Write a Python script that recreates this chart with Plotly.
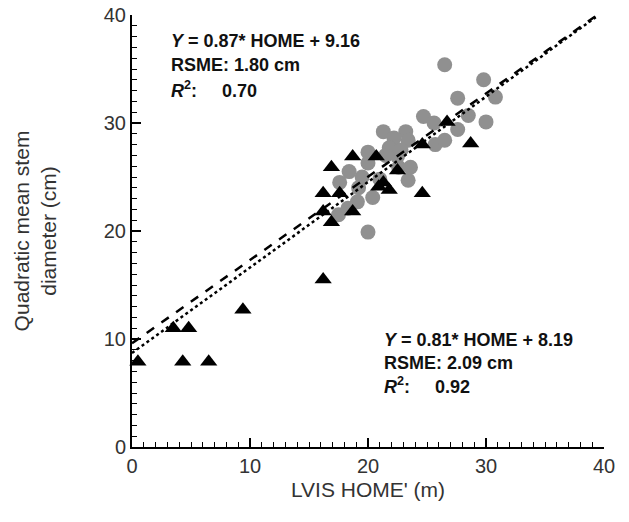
import plotly.graph_objects as go

# Gray circles (one dataset)
circle_x = [26.5, 29.8, 27.6, 30.8, 30.0, 28.5, 24.7, 25.6, 27.6, 21.3, 23.2, 22.2, 25.7, 20.0,
            21.8, 23.4, 17.6, 18.4, 20.0, 21.5, 22.6, 23.4, 19.2, 20.4, 19.1, 17.5, 20.0, 18.3,
            23.6, 22.5, 22.8, 19.5, 21.0, 26.5]
circle_y = [35.4, 34.0, 32.3, 32.4, 30.1, 30.7, 30.6, 30.0, 29.4, 29.2, 29.2, 28.6, 28.0, 27.3,
            27.7, 28.4, 24.5, 25.5, 26.3, 27.0, 25.9, 24.7, 24.0, 23.1, 22.7, 21.5, 19.9, 22.1,
            25.9, 26.9, 27.5, 25.0, 24.8, 28.4]

# Black triangles (other dataset)
tri_x = [0.5, 3.5, 4.8, 4.3, 6.5, 9.4, 16.2, 16.9, 18.7, 20.7, 16.2, 17.6, 16.2, 16.9, 18.7,
         20.9, 21.8, 24.6, 22.5, 21.3, 26.7, 24.6, 28.7]
tri_y = [7.9, 11.0, 11.0, 7.9, 7.9, 12.7, 15.5, 25.9, 26.9, 26.9, 23.5, 23.5, 21.8, 20.8, 21.8,
         24.1, 23.8, 23.5, 25.6, 24.5, 30.1, 28.0, 28.1]

# Regression lines (endpoints)
fit_x = [0, 39.3]
dashed_y = [9.6, 39.9]
dotted_y = [8.7, 39.8]

top_text = ["<b><i>Y</i> = 0.87* HOME + 9.16</b>", "<b>RSME: 1.80 cm</b>",
            "<b><i>R</i><sup>2</sup>:     0.70</b>"]
bottom_text = ["<b><i>Y</i> = 0.81* HOME + 8.19</b>", "<b>RSME: 2.09 cm</b>",
               "<b><i>R</i><sup>2</sup>:     0.92</b>"]

FAM = "Liberation Sans, Arial, sans-serif"

fig = go.Figure()
fig.add_trace(go.Scatter(x=circle_x, y=circle_y, mode="markers",
                         marker=dict(symbol="circle", size=15, color="#909090"),
                         showlegend=False, cliponaxis=False))
fig.add_trace(go.Scatter(x=tri_x, y=tri_y, mode="markers",
                         marker=dict(symbol="triangle-up", size=15, color="black"),
                         showlegend=False, cliponaxis=False))
fig.add_trace(go.Scatter(x=fit_x, y=dashed_y, mode="lines",
                         line=dict(color="black", width=2.5, dash="dash"), showlegend=False))
fig.add_trace(go.Scatter(x=fit_x, y=dotted_y, mode="lines",
                         line=dict(color="black", width=2.5, dash="dot"), showlegend=False))

font = dict(family=FAM, size=18, color="#111")
for i, t in enumerate(top_text):
    fig.add_annotation(x=3.1, y=37.6 - i * 2.25, text=t, showarrow=False, xanchor="left",
                       yanchor="middle", font=font)
for i, t in enumerate(bottom_text):
    fig.add_annotation(x=21.2, y=9.95 - i * 2.15, text=t, showarrow=False, xanchor="left",
                       yanchor="middle", font=font)

axis_common = dict(range=[0, 40], dtick=10, ticks="inside", ticklen=9, tickwidth=1.5,
                   tickcolor="black", showline=True, linecolor="black", linewidth=2,
                   showgrid=False, zeroline=False, mirror=False, automargin=False,
                   ticklabeloverflow="allow",
                   minor=dict(dtick=1, ticks="inside", ticklen=5, tickcolor="black", tickwidth=1.2),
                   tickfont=dict(family=FAM, size=20, color="#333"))

fig.update_layout(
    width=629, height=522,
    margin=dict(l=124, r=33, t=7, b=83),
    paper_bgcolor="white", plot_bgcolor="white",
    xaxis=dict(**axis_common,
               title=dict(text="LVIS HOME' (m)", standoff=6,
                          font=dict(family=FAM, size=21, color="#333"))),
    yaxis=dict(**axis_common,
               title=dict(text="Quadratic mean stem<br>diameter (cm)", standoff=41,
                          font=dict(family=FAM, size=21, color="#333"))),
)

fig.write_html("out.html")
